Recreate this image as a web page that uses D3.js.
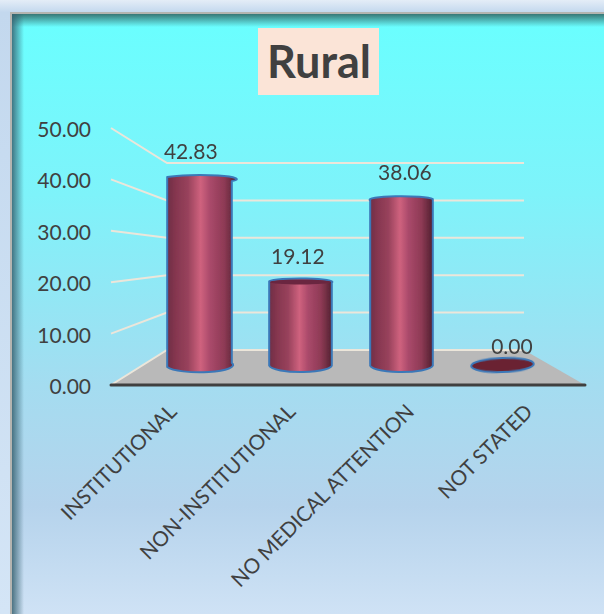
<!DOCTYPE html>
<html>
<head>
<meta charset="utf-8">
<script src="https://cdn.jsdelivr.net/npm/d3@7"></script>
<style>
  html, body { margin: 0; padding: 0; background: #fff; }
  svg { display: block; }
  text { font-family: Lato, "Open Sans", sans-serif; fill: #404040; }
</style>
</head>
<body>
<svg id="chart" width="604" height="614"></svg>
<script>
const title = "Rural";
const categories = ["INSTITUTIONAL", "NON-INSTITUTIONAL", "NO MEDICAL ATTENTION", "NOT STATED"];
const values = [42.83, 19.12, 38.06, 0.0];
const axisTicks = [0, 10, 20, 30, 40, 50];

const width = 604;
const height = 614;
const svg = d3.select("#chart");
const defs = svg.append("defs");

function linearGrad(id, horizontal, stops) {
  const g = defs.append("linearGradient").attr("id", id)
    .attr("x1", 0).attr("y1", 0)
    .attr("x2", horizontal ? 1 : 0).attr("y2", horizontal ? 0 : 1);
  stops.forEach((s) => {
    g.append("stop").attr("offset", s[0]).attr("stop-color", s[1]).attr("stop-opacity", s[2] === undefined ? 1 : s[2]);
  });
}

linearGrad("frame", false, [[0, "#e4edf7"], [0.02, "#c3d8ee"], [1, "#d4e5f6"]]);
linearGrad("panel", false, [[0, "#69ffff"], [0.3, "#7ef3fa"], [0.62, "#a4dcf0"], [0.82, "#b5d3ec"], [1, "#cfe2f5"]]);
linearGrad("shadeTop", false, [[0, "#35706f", 0.95], [1, "#35706f", 0]]);
linearGrad("shadeLeft", true, [[0, "#35606f", 0.85], [1, "#35606f", 0]]);
linearGrad("cyl", true, [
  [0, "#6e2d45"], [0.12, "#85364f"], [0.3, "#98425c"], [0.48, "#cf627e"],
  [0.62, "#a9496a"], [0.82, "#8e3a55"], [1, "#50202f"]
]);

defs.append("filter").attr("id", "soft").append("feGaussianBlur").attr("stdDeviation", 0.5);

// background frame and panel
svg.append("rect").attr("width", width).attr("height", height).attr("fill", "url(#frame)");
svg.append("rect").attr("x", 10).attr("y", 12).attr("width", width - 10).attr("height", height - 12).attr("fill", "#b4b4b0");
svg.append("rect").attr("x", 12).attr("y", 14).attr("width", width - 12).attr("height", height - 14).attr("fill", "url(#panel)");
svg.append("rect").attr("x", 12).attr("y", 14).attr("width", width - 12).attr("height", 13).attr("fill", "url(#shadeTop)");
svg.append("rect").attr("x", 12).attr("y", 14).attr("width", 12).attr("height", height - 14).attr("fill", "url(#shadeLeft)");

// title
svg.append("rect").attr("x", 258).attr("y", 28).attr("width", 121).attr("height", 67).attr("fill", "#fbe4d7");
svg.append("text").attr("x", 319).attr("y", 78).attr("text-anchor", "middle")
  .attr("font-size", 45).attr("font-weight", 700).text(title);

// the 3d box: front edge of the walls and back wall use different scales
const frontX = 111;
const backX = 167;
const backRight = 524;
const frontRight = 585;
const yFront = d3.scaleLinear().domain([0, 50]).range([385, 128]);
const yBack = d3.scaleLinear().domain([0, 50]).range([350, 163]);
const yBar = d3.scaleLinear().domain([0, 50]).range([365, 148]);

const x = d3.scaleBand().domain(categories).range([149, 553]).paddingInner(0.38).paddingOuter(0.19);
// labels sit on the front edge so they are spaced wider than the bars
const xLabel = d3.scalePoint().domain(categories).range([178, 534]);

svg.append("path")
  .attr("d", d3.line()([[frontX, 385], [backX, 350], [backRight, 350], [frontRight, 385]]) + "Z")
  .attr("fill", "#b9b9b9");

const grid = svg.append("g").attr("fill", "none").attr("stroke", "#ece6da").attr("stroke-width", 2);
axisTicks.forEach((t) => {
  const pts = [[frontX, yFront(t)], [backX, yBack(t)], [backRight, yBack(t)]];
  grid.append("path").attr("d", d3.line()(pts));
});

svg.append("line").attr("x1", frontX).attr("x2", frontRight).attr("y1", 385).attr("y2", 385)
  .attr("stroke", "#404040").attr("stroke-width", 3).attr("stroke-linecap", "round");

// value axis
const yAxis = d3.axisLeft(yFront).tickValues(axisTicks).tickFormat(d3.format(".2f")).tickSize(0).tickPadding(20);
const axisG = svg.append("g").attr("transform", `translate(${frontX},0)`).call(yAxis);
axisG.select(".domain").remove();
axisG.selectAll("text").attr("font-size", 21).attr("dy", "0.4em");
axisG.attr("font-family", null);

// cylinders
const midX = (backX + backRight) / 2 + 5;
const bars = svg.append("g").attr("filter", "url(#soft)");
const ellipseRx = x.bandwidth() / 2;

categories.forEach((c, i) => {
  const v = values[i];
  const cx = x(c) + ellipseRx;
  const lean = (midX - cx) / 150;   // perspective tilt of the ellipses
  const top = yBar(v);
  const base = yBar(0);
  const rx = ellipseRx + (i === 0 ? 1 : 0);

  if (v === 0) {
    bars.append("ellipse").attr("cx", cx).attr("cy", base).attr("rx", rx).attr("ry", 7)
      .attr("fill", "#6a2433").attr("stroke", "#3b78b8").attr("stroke-width", 2)
      .attr("transform", `rotate(${lean * 2},${cx},${base})`);
    return;
  }

  const rise = lean * 2;
  const body = `M${cx - rx},${top - rise}` +
    `A${rx},3.5,0,0,1,${cx + rx},${top + rise}` +
    `L${cx + rx},${base - rise}` +
    `A${rx},7,0,0,1,${cx - rx},${base + rise}Z`;
  bars.append("path").attr("d", body).attr("fill", "url(#cyl)")
    .attr("stroke", "#3b78b8").attr("stroke-width", 2).attr("stroke-linejoin", "round");

  // only the short bar shows its dark cap from above
  if (i === 1) {
    bars.append("ellipse").attr("cx", cx).attr("cy", top).attr("rx", rx - 1).attr("ry", 2.5)
      .attr("fill", "#6a2740");
  }
});

// data labels, pushed outward a little like the perspective does
svg.append("g").selectAll("text").data(categories).join("text")
  .attr("x", (c) => {
    const cx = x(c) + x.bandwidth() / 2;
    return cx + (cx - midX + 5) * 0.06;
  })
  .attr("y", (c, i) => yBar(values[i]) - (values[i] > 0 ? 16 + values[i] * 0.09 : 11))
  .attr("text-anchor", "middle")
  .attr("font-size", 21)
  .text((c, i) => d3.format(".2f")(values[i]));

// category labels
svg.append("g").selectAll("text").data(categories).join("text")
  .attr("transform", (c) => `translate(${xLabel(c)},${413}) rotate(-45)`)
  .attr("text-anchor", "end")
  .attr("font-size", 20.7)
  .text((c) => c);
</script>
</body>
</html>
